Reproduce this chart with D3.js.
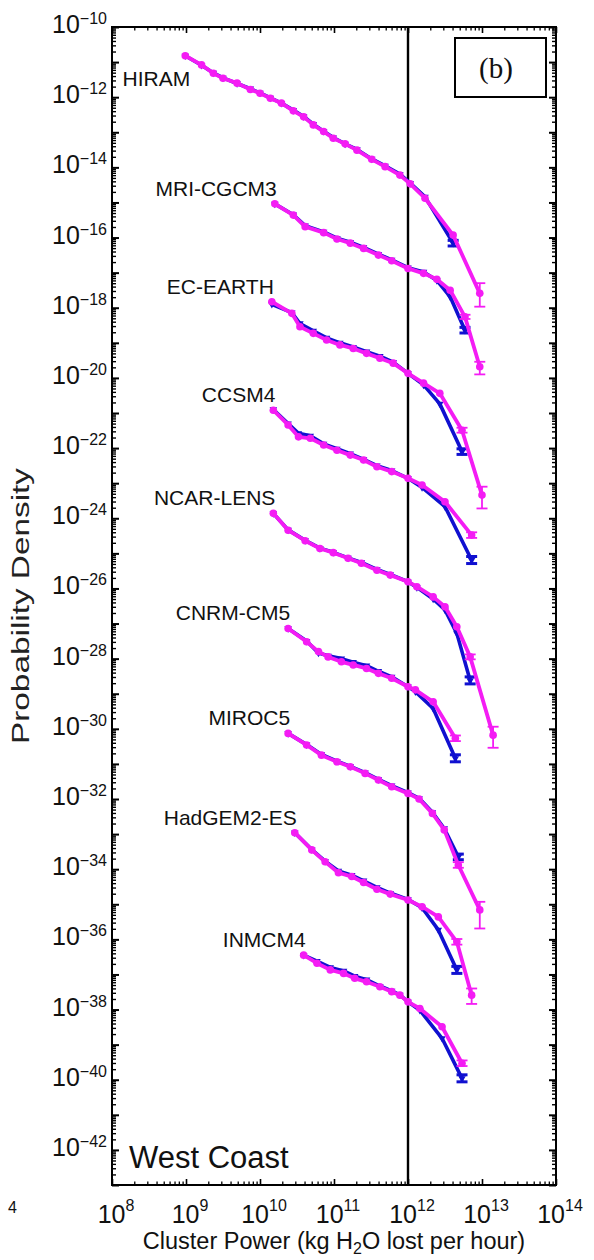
<!DOCTYPE html>
<html>
<head>
<meta charset="utf-8">
<script src="https://cdn.jsdelivr.net/npm/d3@7"></script>
<style>
  body { margin: 0; background: #fff; }
  svg { display: block; }
  text { font-family: "Liberation Sans", Arial, Helvetica, sans-serif; fill: #111; }
  text.serif { font-family: "Liberation Serif", "Times New Roman", serif; }
</style>
</head>
<body>
<svg id="chart" width="594" height="1260"></svg>
<script>
// Cluster power is stored as log10(kg H2O / h); densities as log10 of the
// vertically offset probability density of each model (blue and magenta runs).
// Error bars are [log10 power, log10 low, log10 high].

const hiramPower   = [8.99, 9.21, 9.37, 9.50, 9.69, 9.87, 10.00, 10.14, 10.29, 10.45, 10.59, 10.72, 10.86, 10.99, 11.15, 11.31, 11.51, 11.69, 11.89, 12.03, 12.23, 12.61, 12.97];
const hiramMagenta = [-10.82, -11.08, -11.32, -11.46, -11.60, -11.78, -11.89, -12.03, -12.17, -12.39, -12.56, -12.79, -12.98, -13.17, -13.33, -13.51, -13.77, -13.98, -14.22, -14.47, -14.88, -15.93, -17.59];
const hiramBlue    = [-10.82, -11.09, -11.31, -11.45, -11.61, -11.76, -11.88, -12.02, -12.17, -12.37, -12.55, -12.77, -12.97, -13.15, -13.33, -13.49, -13.76, -13.96, -14.19, -14.45, -14.84, -16.16, null];
const hiramBlueErr    = [[12.61, -16.24, -16.08]];
const hiramMagentaErr = [[12.97, -17.97, -17.30]];

const mriPower   = [10.20, 10.45, 10.61, 10.86, 11.04, 11.22, 11.40, 11.60, 11.78, 12.00, 12.21, 12.39, 12.57, 12.77, 12.97];
const mriMagenta = [-15.04, -15.36, -15.69, -15.86, -16.04, -16.16, -16.31, -16.50, -16.66, -16.88, -17.02, -17.19, -17.50, -18.26, -19.68];
const mriBlue    = [-15.04, -15.35, -15.66, -15.84, -16.02, -16.13, -16.28, -16.47, -16.64, -16.86, -16.98, -17.22, -17.69, -18.64, null];
const mriBlueErr    = [[12.77, -18.72, -18.56]];
const mriMagentaErr = [[12.77, -18.32, -18.20], [12.97, -19.90, -19.54]];

const ecPower   = [10.16, 10.43, 10.54, 10.72, 10.90, 11.08, 11.26, 11.44, 11.62, 11.80, 12.00, 12.21, 12.43, 12.73, 13.00];
const ecMagenta = [-17.83, -18.16, -18.54, -18.73, -18.92, -19.06, -19.16, -19.30, -19.44, -19.58, -19.87, -20.15, -20.44, -21.49, -23.34];
const ecBlue    = [-17.90, -18.14, -18.45, -18.66, -18.86, -19.00, -19.12, -19.25, -19.38, -19.55, -19.87, -20.20, -20.74, -22.10, null];
const ecBlueErr    = [[12.73, -22.18, -22.02]];
const ecMagentaErr = [[12.73, -21.56, -21.42], [13.00, -23.72, -23.10]];

const ccsmPower   = [10.18, 10.38, 10.52, 10.68, 10.86, 11.04, 11.22, 11.40, 11.58, 11.78, 12.00, 12.19, 12.50, 12.86];
const ccsmMagenta = [-20.92, -21.34, -21.68, -21.72, -21.91, -22.06, -22.20, -22.34, -22.53, -22.67, -22.86, -23.05, -23.53, -24.48];
const ccsmBlue    = [-20.90, -21.30, -21.58, -21.65, -21.88, -22.02, -22.16, -22.32, -22.50, -22.64, -22.86, -23.12, -23.67, -25.19];
const ccsmBlueErr    = [[12.86, -25.29, -25.09]];
const ccsmMagentaErr = [[12.86, -24.56, -24.40]];

const ncarPower   = [10.18, 10.38, 10.61, 10.81, 10.99, 11.19, 11.37, 11.58, 11.76, 12.00, 12.12, 12.34, 12.50, 12.66, 12.84, 13.15];
const ncarMagenta = [-23.86, -24.34, -24.64, -24.86, -24.98, -25.14, -25.28, -25.48, -25.62, -25.81, -25.95, -26.24, -26.52, -27.09, -27.95, -30.18];
const ncarBlue    = [-23.86, -24.33, -24.63, -24.85, -24.97, -25.13, -25.26, -25.46, -25.60, -25.81, -25.97, -26.30, -26.61, -27.28, -28.62, null];
const ncarBlueErr    = [[12.84, -28.72, -28.52]];
const ncarMagentaErr = [[12.84, -28.02, -27.88], [13.15, -30.54, -29.94]];

const cnrmPower   = [10.38, 10.63, 10.79, 10.92, 11.10, 11.26, 11.44, 11.60, 11.78, 12.00, 12.10, 12.34, 12.64];
const cnrmMagenta = [-27.14, -27.52, -27.80, -27.95, -28.09, -28.18, -28.28, -28.42, -28.56, -28.80, -28.89, -29.23, -30.27];
const cnrmBlue    = [-27.14, -27.50, -27.84, -27.92, -28.00, -28.10, -28.20, -28.36, -28.52, -28.80, -28.94, -29.42, -30.84];
const cnrmBlueErr    = [[12.64, -30.94, -30.74]];
const cnrmMagentaErr = [[12.64, -30.35, -30.19]];

const mirocPower   = [10.38, 10.63, 10.83, 11.04, 11.22, 11.42, 11.60, 11.78, 12.00, 12.15, 12.33, 12.49, 12.68, 12.97];
const mirocMagenta = [-30.13, -30.46, -30.75, -30.94, -31.08, -31.27, -31.46, -31.65, -31.84, -32.00, -32.41, -32.88, -33.88, -35.16];
const mirocBlue    = [-30.13, -30.45, -30.73, -30.92, -31.07, -31.25, -31.44, -31.62, -31.82, -31.98, -32.38, -32.84, -33.65, null];
const mirocBlueErr    = [[12.68, -33.73, -33.57]];
const mirocMagentaErr = [[12.68, -33.96, -33.80], [12.97, -35.69, -34.93]];

const hadgemPower   = [10.47, 10.70, 10.88, 11.06, 11.24, 11.40, 11.58, 11.76, 12.00, 12.19, 12.41, 12.66, 12.86];
const hadgemMagenta = [-32.96, -33.45, -33.79, -34.10, -34.21, -34.38, -34.57, -34.71, -34.88, -35.07, -35.36, -36.07, -37.59];
const hadgemBlue    = [-32.96, -33.44, -33.77, -34.05, -34.17, -34.33, -34.52, -34.68, -34.86, -35.10, -35.73, -36.87, null];
const hadgemBlueErr    = [[12.66, -36.97, -36.77]];
const hadgemMagentaErr = [[12.66, -36.15, -35.99], [12.86, -37.84, -37.40]];

const inmPower   = [10.59, 10.77, 10.95, 11.13, 11.28, 11.44, 11.62, 11.78, 11.89, 12.00, 12.16, 12.46, 12.73];
const inmMagenta = [-36.45, -36.68, -36.87, -36.97, -37.11, -37.21, -37.35, -37.49, -37.59, -37.78, -37.97, -38.49, -39.53];
const inmBlue    = [-36.45, -36.62, -36.80, -36.90, -37.05, -37.15, -37.33, -37.47, -37.58, -37.78, -38.02, -38.82, -39.96];
const inmBlueErr    = [[12.73, -40.06, -39.86]];
const inmMagentaErr = [[12.73, -39.61, -39.45]];

const modelNames = ["HIRAM", "MRI-CGCM3", "EC-EARTH", "CCSM4", "NCAR-LENS", "CNRM-CM5", "MIROC5", "HadGEM2-ES", "INMCM4"];

const xTickExponents = [8, 9, 10, 11, 12, 13, 14];
const yTickExponents = [-10, -12, -14, -16, -18, -20, -22, -24, -26, -28, -30, -32, -34, -36, -38, -40, -42];
const thresholdPower = 1e12;

(function draw() {
  // ---- assemble per-model series ----
  const models = [
    [hiramPower, hiramBlue, hiramMagenta, hiramBlueErr, hiramMagentaErr],
    [mriPower, mriBlue, mriMagenta, mriBlueErr, mriMagentaErr],
    [ecPower, ecBlue, ecMagenta, ecBlueErr, ecMagentaErr],
    [ccsmPower, ccsmBlue, ccsmMagenta, ccsmBlueErr, ccsmMagentaErr],
    [ncarPower, ncarBlue, ncarMagenta, ncarBlueErr, ncarMagentaErr],
    [cnrmPower, cnrmBlue, cnrmMagenta, cnrmBlueErr, cnrmMagentaErr],
    [mirocPower, mirocBlue, mirocMagenta, mirocBlueErr, mirocMagentaErr],
    [hadgemPower, hadgemBlue, hadgemMagenta, hadgemBlueErr, hadgemMagentaErr],
    [inmPower, inmBlue, inmMagenta, inmBlueErr, inmMagentaErr]
  ].map(([p, b, m, be, me], i) => ({
    name: modelNames[i],
    blue: p.map((v, j) => ({ x: 10 ** v, y: b[j] == null ? null : 10 ** b[j] })).filter(d => d.y != null),
    magenta: p.map((v, j) => ({ x: 10 ** v, y: 10 ** m[j] })),
    blueErr: be.map(([v, lo, hi]) => ({ x: 10 ** v, lo: 10 ** lo, hi: 10 ** hi })),
    magentaErr: me.map(([v, lo, hi]) => ({ x: 10 ** v, lo: 10 ** lo, hi: 10 ** hi }))
  }));

  // ---- layout ----
  const svg = d3.select("#chart");
  const pl = 112, pr = 556, pt = 27, pb = 1185;
  const x = d3.scaleLog().domain([1e8, 1e14]).range([pl, pr]);
  const y = d3.scaleLog().domain([1e-43, 1e-10]).range([pb, pt]);

  const BLUE = "#1010d0";
  const MAGENTA = "#f41cf4";

  // ---- ticks (inside, on all four sides) ----
  const xMajor = xTickExponents.map(e => 10 ** e);
  const xMinor = [];
  for (let e = 8; e < 14; e++) for (let m = 2; m <= 9; m++) xMinor.push(m * 10 ** e);
  const yMajor = [];
  const yMinor = [];
  for (let e = -43; e <= -10; e++) {
    yMajor.push(10 ** e);
    if (e < -10) for (let m = 2; m <= 9; m++) yMinor.push(m * 10 ** e);
  }

  function tickSet(axisFn, scale, values, size, tx, ty, w) {
    svg.append("g")
      .attr("transform", `translate(${tx},${ty})`)
      .call(axisFn(scale).tickValues(values).tickSize(size).tickFormat(""))
      .call(g => g.select(".domain").remove())
      .call(g => g.selectAll(".tick line").attr("stroke", "#000").attr("stroke-width", w));
  }
  tickSet(d3.axisLeft, y, yMinor, -4, pl, 0, 1.4);
  tickSet(d3.axisLeft, y, yMajor, -7, pl, 0, 2);
  tickSet(d3.axisRight, y, yMinor, -4, pr, 0, 1.4);
  tickSet(d3.axisRight, y, yMajor, -7, pr, 0, 2);
  tickSet(d3.axisBottom, x, xMinor, -3.5, 0, pb, 1.3);
  tickSet(d3.axisBottom, x, xMajor, -6, 0, pb, 1.6);
  tickSet(d3.axisTop, x, xMinor, -3.5, 0, pt, 1.3);
  tickSet(d3.axisTop, x, xMajor, -6, 0, pt, 1.6);

  // ---- threshold line at 10^12 ----
  svg.append("line")
    .attr("x1", x(thresholdPower)).attr("x2", x(thresholdPower))
    .attr("y1", pt).attr("y2", pb)
    .attr("stroke", "#000").attr("stroke-width", 2.4);

  // ---- series ----
  const line = d3.line().x(d => x(d.x)).y(d => y(d.y));
  const triangle = d3.symbol().type(d3.symbolTriangle).size(24);

  function drawErr(g, errs, color, width, cap) {
    errs.forEach(e => {
      const cx = x(e.x);
      g.append("line").attr("x1", cx).attr("x2", cx).attr("y1", y(e.lo)).attr("y2", y(e.hi))
        .attr("stroke", color).attr("stroke-width", width);
      [e.lo, e.hi].forEach(v => g.append("line")
        .attr("x1", cx - cap).attr("x2", cx + cap).attr("y1", y(v)).attr("y2", y(v))
        .attr("stroke", color).attr("stroke-width", width));
    });
  }

  const blueLayer = svg.append("g");
  const magentaLayer = svg.append("g");

  models.forEach(m => {
    blueLayer.append("path").datum(m.blue)
      .attr("d", line).attr("fill", "none")
      .attr("stroke", BLUE).attr("stroke-width", 3.6).attr("stroke-linejoin", "round");
    blueLayer.append("g").selectAll("path").data(m.blue).join("path")
      .attr("d", triangle)
      .attr("transform", d => `translate(${x(d.x)},${y(d.y)}) rotate(180)`)
      .attr("fill", BLUE);
    drawErr(blueLayer, m.blueErr, BLUE, 3, 5.5);

    magentaLayer.append("path").datum(m.magenta)
      .attr("d", line).attr("fill", "none")
      .attr("stroke", MAGENTA).attr("stroke-width", 3.8).attr("stroke-linejoin", "round");
    magentaLayer.append("g").selectAll("circle").data(m.magenta).join("circle")
      .attr("cx", d => x(d.x)).attr("cy", d => y(d.y)).attr("r", 3.8)
      .attr("fill", MAGENTA);
    drawErr(magentaLayer, m.magentaErr, MAGENTA, 1.8, 5.5);
  });

  // ---- model labels, placed relative to the first point of each curve ----
  models.forEach((m, i) => {
    const p = m.magenta[0];
    const isFirst = i === 0;
    svg.append("text")
      .attr("x", x(p.x) + (isFirst ? 5 : 2))
      .attr("y", y(p.y) + (isFirst ? 30 : -8))
      .attr("text-anchor", "end")
      .attr("font-size", 21)
      .text(m.name);
  });

  // ---- frame ----
  svg.append("rect")
    .attr("x", pl).attr("y", pt)
    .attr("width", pr - pl).attr("height", pb - pt)
    .attr("fill", "none").attr("stroke", "#000").attr("stroke-width", 2);

  // ---- tick labels ----
  yTickExponents.forEach(e => {
    const t = svg.append("text")
      .attr("x", pl - 5).attr("y", y(10 ** e) + 6)
      .attr("text-anchor", "end").attr("font-size", 25);
    t.append("tspan").text("10");
    t.append("tspan").attr("dy", -9).attr("font-size", 16).text("\u2212" + Math.abs(e));
  });
  xTickExponents.forEach(e => {
    const t = svg.append("text")
      .attr("x", x(10 ** e) + 4).attr("y", pb + 38)
      .attr("text-anchor", "middle").attr("font-size", 25);
    t.append("tspan").text("10");
    t.append("tspan").attr("dy", -12).attr("font-size", 16).text(e);
  });

  // ---- axis titles ----
  const xt = svg.append("text")
    .attr("x", (pl + pr) / 2).attr("y", 1249)
    .attr("text-anchor", "middle").attr("font-size", 23.5);
  xt.append("tspan").text("Cluster Power (kg H");
  xt.append("tspan").attr("font-size", 16).attr("dy", 5).text("2");
  xt.append("tspan").attr("dy", -5).text("O lost per hour)");

  svg.append("text")
    .attr("transform", `translate(29,${(pt + pb) / 2}) rotate(-90)`)
    .attr("text-anchor", "middle").attr("font-size", 23)
    .style("fill", "#222")
    .attr("textLength", 276).attr("lengthAdjust", "spacingAndGlyphs")
    .text("Probability Density");

  // ---- panel annotations ----
  svg.append("rect")
    .attr("x", 455).attr("y", 38).attr("width", 91).attr("height", 59)
    .attr("fill", "#fff").attr("stroke", "#000").attr("stroke-width", 2);
  svg.append("text")
    .attr("class", "serif")
    .attr("x", 496).attr("y", 78).attr("text-anchor", "middle")
    .attr("font-size", 29).text("(b)");

  svg.append("text")
    .attr("x", 129).attr("y", 1168).attr("font-size", 31)
    .text("West Coast");

  // edge of the neighbouring panel's axis label
  svg.append("text")
    .attr("x", 8).attr("y", 1213).attr("font-size", 16).text("4");
})();
</script>
</body>
</html>
